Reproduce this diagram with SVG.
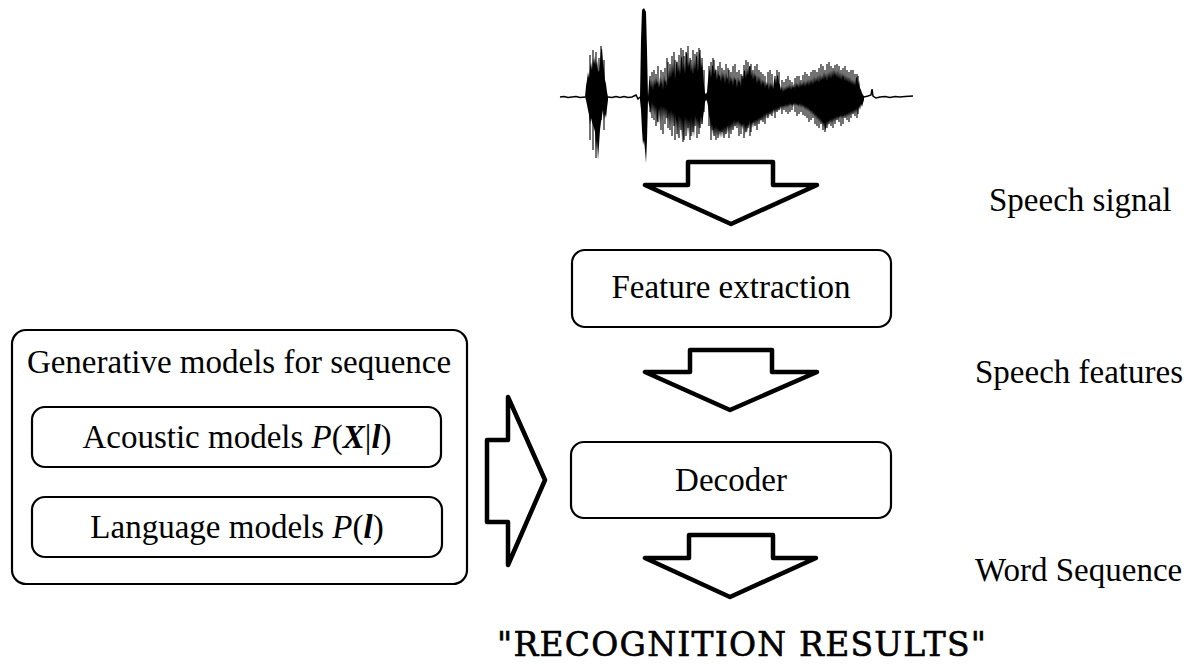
<svg xmlns="http://www.w3.org/2000/svg" width="1196" height="664" viewBox="0 0 1196 664">
  <style>
    .box { fill: #ffffff; stroke: #000000; stroke-width: 2.2; }
    .flow { fill: #ffffff; stroke: #000000; stroke-width: 4.5; stroke-linejoin: round; }
    .lbl { font-family: "Liberation Serif", "Times New Roman", serif; font-size: 33px; fill: #000000; }
    .side { font-family: "Liberation Serif", "Times New Roman", serif; font-size: 33px; fill: #000000; }
    .it { font-style: italic; }
    .bi { font-style: italic; font-weight: bold; }
    .result { font-family: "DejaVu Serif", "Liberation Serif", serif; font-size: 33px; fill: #000000; stroke: #000000; stroke-width: 0.6; }
    .peaks { fill: none; stroke: #000000; stroke-width: 1.1; }
  </style>

  <!-- speech waveform -->
  <g id="waveform" fill="#000000">
    <polyline fill="none" stroke="#000000" stroke-width="1.5"
      points="560,97 564,96.5 568,97.5 572,97 576,96.5 580,97.5 585,97"/>
    <polyline fill="none" stroke="#000000" stroke-width="1.5"
      points="608,97 612,97.5 616,96.5 620,97.5 624,96.5 628,97.5 632,97 636,95 638,99 640,97"/>
    <polyline fill="none" stroke="#000000" stroke-width="1.5"
      points="864,97 868,96 871,95 872,89 873,96 876,98 880,97 885,96.5 890,97.5 895,96.5 900,97 905,96.5 913,96"/>
    <!-- first burst -->
    <polygon points="585,97 586,86 587,80 588,72 589,78 590,68 591,62 592,70 593,58 594,64 595,56 596,66 597,60 598,70 599,72 600,62 601,50 602,48 603,62 604,70 605,80 606,84 607,92 608,97
      608,100 607,108 606,118 605,114 604,120 603,110 602,116 601,122 600,130 599,145 598,160 597,140 596,150 595,132 594,128 593,125 592,122 591,118 590,125 589,115 588,110 587,105 586,100"/>
    <!-- onset spike -->
    <polygon points="640,97 641,40 642,10 644,8 646,12 647,50 648,97 648,100 647,140 646,163 645,150 644,140 643,145 642,130 641,110 640,100"/>
    <!-- voiced segment -->
    <polygon points="648,97 649,82 650,78 651,88 652,80 653,90 654,79 655,86 656,77 657,84 658,80 659,88 660,76 661,85 662,78 663,90 664,75 665,83 666,79 667,87 668,70 669,80 670,66 671,78 672,63 673,74 674,62 675,80 676,65 677,60 678,72 679,64 680,75 681,58 682,56 683,70 684,62 685,74 686,54 687,52 688,68 689,60 690,66 691,72 692,63 693,75 694,60 695,70 696,57 697,55 698,72 699,53 700,54 701,68 702,62 703,72 704,85 705,93 706,94 707,92 708,80 709,72 710,68 711,78 712,66 713,65 714,75 715,68 716,72 717,80 718,70 719,77 720,74 721,82 722,71 723,79 724,73 725,84 726,72 727,80 728,76 729,85 730,74 731,82 732,77 733,86 734,76 735,81 736,78 737,88 738,77 739,83 740,79 741,87 742,74 743,80 744,71 745,70 746,78 747,68 748,75 749,67 750,66 751,77 752,70 753,80 754,72 755,78 756,74 757,84 758,75 759,82 760,76 761,86 762,79 763,84 764,80 765,88 766,81 767,86 768,82 769,90 770,82 771,87 772,83 773,89 774,80 775,78 776,84 777,76 778,75 779,83 780,85 781,90 782,86 783,92 784,87 785,91 786,86 787,90 788,85 789,89 790,84 791,90 792,85 793,88 794,83 795,89 796,82 797,87 798,83 799,88 800,81 801,87 802,82 803,86 804,80 805,87 806,81 807,85 808,79 809,86 810,79 811,84 812,78 813,85 814,76 815,83 816,77 817,82 818,75 819,83 820,74 821,81 822,75 823,80 824,72 825,79 826,73 827,81 828,72 829,78 830,71 831,79 832,70 833,77 834,69 835,76 836,71 837,78 838,70 839,79 840,72 841,80 842,73 843,78 844,74 845,81 846,75 847,82 848,76 849,83 850,77 851,84 852,79 853,85 854,80 855,86 856,78 857,77 858,85 859,80 860,88 861,90 862,93 863,95 864,96
      864,100 863,103 862,107 861,104 860,110 859,106 858,112 857,108 856,113 855,109 854,114 853,110 852,115 851,111 850,116 849,112 848,117 847,113 846,118 845,114 844,118 843,115 842,119 841,115 840,118 839,116 838,120 837,116 836,121 835,117 834,122 833,118 832,124 831,119 830,123 829,120 828,126 827,121 826,128 825,130 824,122 823,127 822,120 821,124 820,118 819,122 818,116 817,120 816,114 815,118 814,112 813,116 812,110 811,114 810,109 809,112 808,107 807,111 806,106 805,110 804,105 803,108 802,104 801,108 800,103 799,107 798,104 797,106 796,103 795,106 794,103 793,107 792,104 791,106 790,103 789,107 788,104 787,108 786,104 785,108 784,105 783,109 782,105 781,110 780,106 779,111 778,107 777,112 776,108 775,113 774,109 773,114 772,110 771,116 770,111 769,117 768,112 767,119 766,113 765,120 764,114 763,121 762,116 761,122 760,117 759,123 758,118 757,125 756,119 755,126 754,120 753,128 752,122 751,129 750,121 749,127 748,124 747,133 746,125 745,135 744,123 743,130 742,124 741,128 740,122 739,127 738,120 737,126 736,121 735,128 734,120 733,130 732,122 731,131 730,124 729,133 728,125 727,134 726,126 725,136 724,127 723,137 722,128 721,138 720,130 719,137 718,128 717,136 716,126 715,137 714,127 713,135 712,124 711,132 710,120 709,115 708,106 707,101 706,100 705,102 704,110 703,118 702,125 701,116 700,128 699,120 698,130 697,118 696,127 695,115 694,138 693,120 692,137 691,117 690,133 689,119 688,135 687,118 686,132 685,116 684,140 683,120 682,139 681,117 680,131 679,115 678,138 677,119 676,128 675,114 674,126 673,112 672,124 671,110 670,127 669,111 668,122 667,108 666,120 665,107 664,118 663,106 662,121 661,105 660,125 659,108 658,118 657,124 656,106 655,116 654,104 653,113 652,102 651,115 650,108 649,105 648,100"/>
    <!-- individual peaks poking out of the envelope -->
    <path class="peaks"
      d="M590,55V140 M593,50V150 M596,52V158 M599,58V128 M601,46V120 M604,60V130
         M652,72V118 M656,74V126 M661,70V130 M665,68V124 M668,62V128 M672,56V136 M675,60V140 M679,55V138 M683,50V142 M686,52V136 M690,58V140 M693,50V132 M697,52V138 M700,50V128 M702,58V124
         M711,62V140 M714,60V136 M718,66V138 M722,68V132 M726,64V134 M729,70V138 M733,66V130 M737,72V128 M741,74V134 M744,65V138 M748,62V128 M751,64V132 M755,66V126 M759,70V124 M763,74V122 M768,72V118 M772,74V116 M777,70V112
         M782,80V114 M786,79V112 M790,80V112 M795,78V112 M799,76V114 M803,75V115 M807,74V118 M811,72V120 M815,70V124 M819,68V128 M823,66V130 M827,64V128 M831,66V126 M835,65V124 M839,66V122 M843,68V124 M847,70V120 M851,70V118 M855,74V116 M858,76V114"/>
    <path class="peaks"
      d="M650,76V112 M654,70V120 M658,66V122 M663,72V134 M667,58V118 M670,64V130 M674,52V126 M677,62V134 M681,48V130 M684,56V140 M688,46V128 M691,60V136 M695,54V126 M699,48V134 M704,70V112
         M709,66V126 M713,58V130 M716,70V140 M720,62V128 M724,70V138 M728,68V126 M731,72V134 M735,64V126 M739,70V136 M742,76V124 M746,60V132 M750,66V136 M753,70V122 M757,64V130 M761,72V120 M765,76V124 M770,70V114 M775,76V118 M779,72V110
         M784,82V110 M788,76V114 M792,82V110 M797,76V116 M801,80V112 M805,72V116 M809,76V122 M813,70V118 M817,72V126 M821,64V124 M825,70V132 M829,62V124 M833,68V128 M837,64V120 M841,70V126 M845,66V118 M849,72V122 M853,70V114 M857,74V118"/>
  </g>

  <!-- block arrows -->
  <g id="connectors">
    <path class="flow" d="M688,162 L773,162 L773,185 L817,185 L731,224 L645,185 L688,185 Z"/>
    <path class="flow" d="M690,350 L772,350 L772,372 L817,372 L730,410 L645,372 L690,372 Z"/>
    <path class="flow" d="M689,535 L773,535 L773,558 L816,558 L730,597 L645,558 L689,558 Z"/>
    <path class="flow" d="M487,440 L508,440 L508,397 L545,480 L508,565 L508,522 L487,522 Z"/>
  </g>

  <g id="feature-extraction">
    <rect class="box" x="572" y="250" width="319" height="77" rx="13"/>
    <text class="lbl" x="731" y="298" text-anchor="middle">Feature extraction</text>
  </g>

  <g id="decoder">
    <rect class="box" x="571" y="442" width="320" height="76" rx="13"/>
    <text class="lbl" x="731" y="491" text-anchor="middle">Decoder</text>
  </g>

  <g id="generative-models">
    <rect class="box" x="12" y="330" width="455" height="254" rx="14"/>
    <text class="lbl" x="239" y="373" text-anchor="middle">Generative models for sequence</text>
  </g>

  <g id="acoustic-models">
    <rect class="box" x="32" y="407" width="409" height="60" rx="13"/>
    <text class="lbl" x="237" y="448" text-anchor="middle">Acoustic models <tspan class="it">P</tspan>(<tspan class="bi">X</tspan>|<tspan class="bi">l</tspan>)</text>
  </g>

  <g id="language-models">
    <rect class="box" x="32" y="497" width="410" height="60" rx="13"/>
    <text class="lbl" x="237" y="538" text-anchor="middle">Language models <tspan class="it">P</tspan>(<tspan class="bi">l</tspan>)</text>
  </g>

  <g id="stage-labels">
    <text class="side" x="989" y="211">Speech signal</text>
    <text class="side" x="975" y="383">Speech features</text>
    <text class="side" x="975" y="581">Word Sequence</text>
  </g>

  <g id="result">
    <text class="result" x="497" y="656" textLength="489" lengthAdjust="spacing">"RECOGNITION RESULTS"</text>
  </g>
</svg>
